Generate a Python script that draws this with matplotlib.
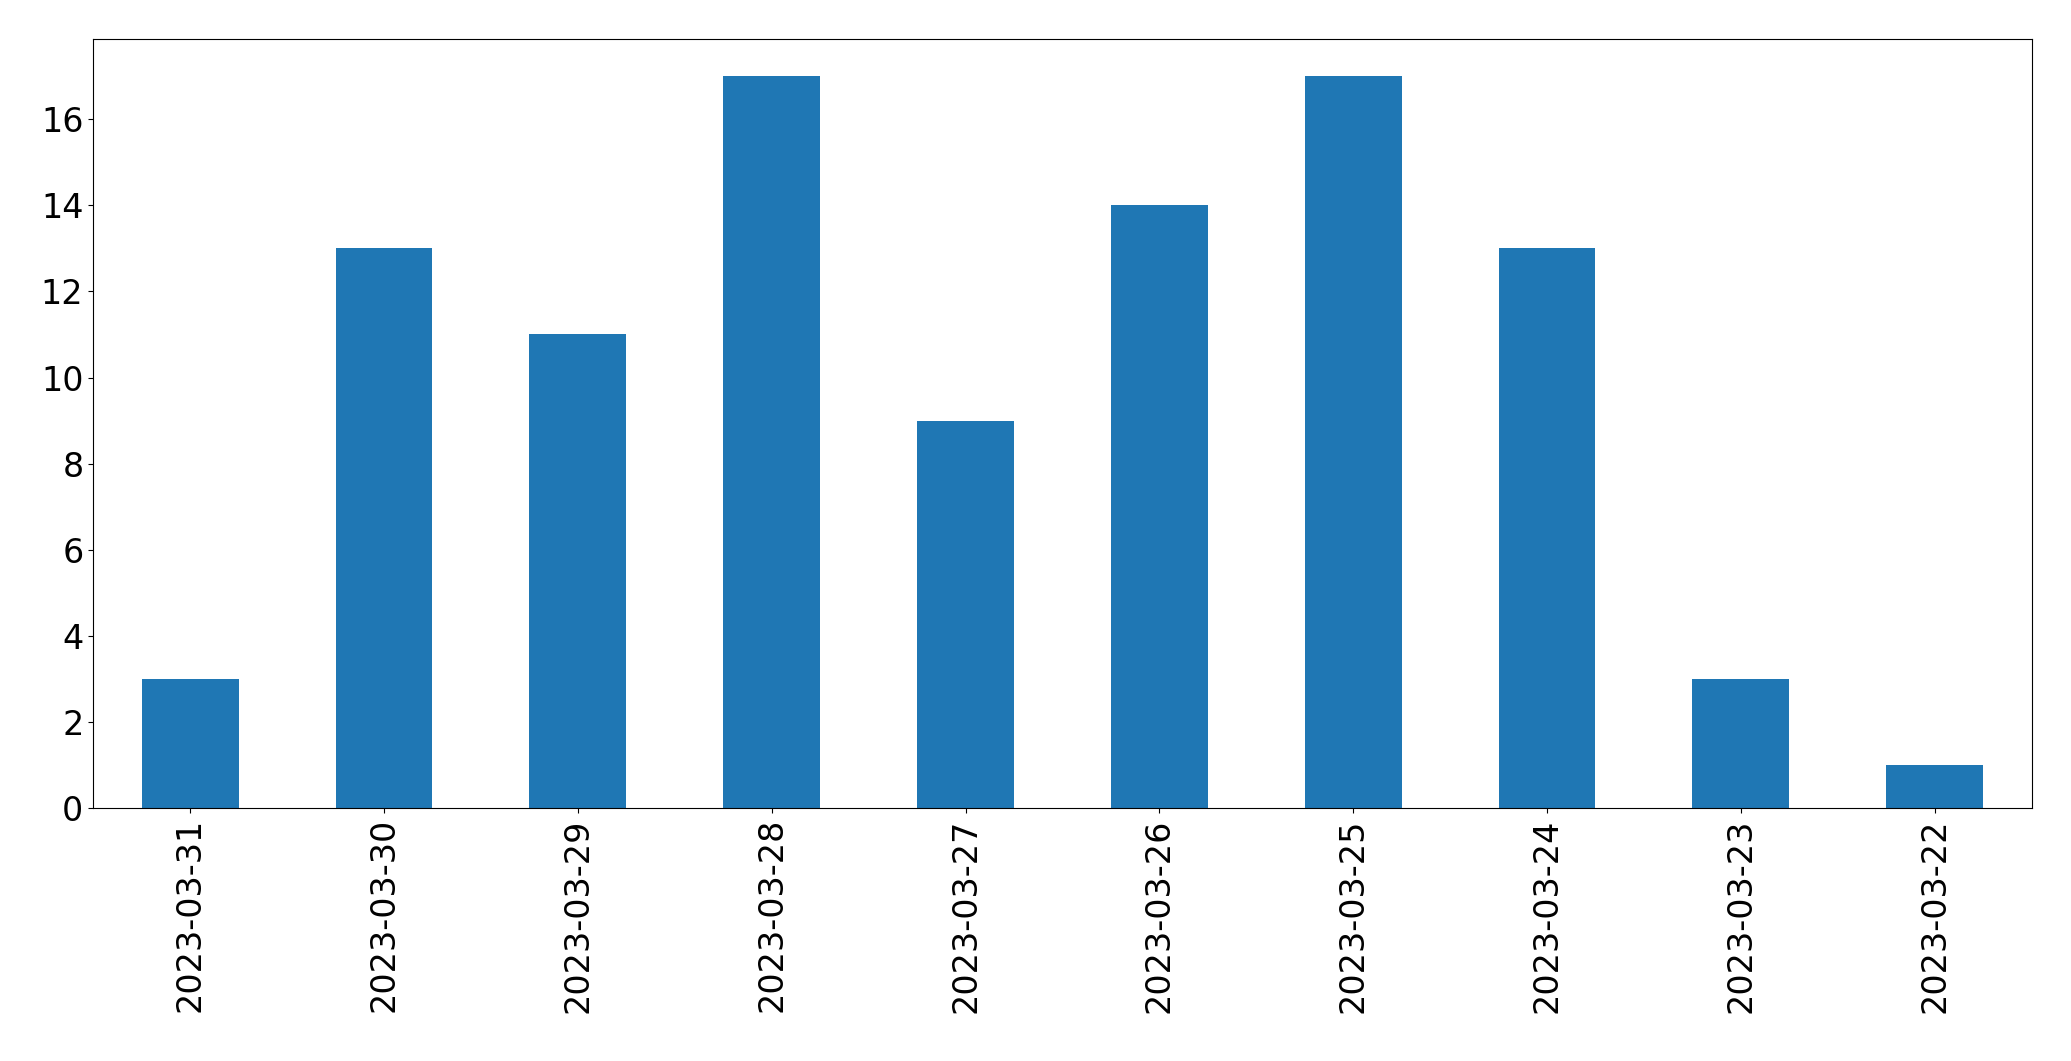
import matplotlib
matplotlib.use("Agg")
import matplotlib.pyplot as plt

dates = ["2023-03-31","2023-03-30","2023-03-29","2023-03-28","2023-03-27",
         "2023-03-26","2023-03-25","2023-03-24","2023-03-23","2023-03-22"]
counts = [3, 13, 11, 17, 9, 14, 17, 13, 3, 1]

fig = plt.figure(figsize=(20.71, 10.61), dpi=100)
ax = fig.add_axes([0.045, 0.238, 0.936, 0.725])
x = range(len(dates))
ax.bar(x, counts, width=0.5, color="#1f77b4")
ax.set_xlim(-0.5, len(dates) - 0.5)
ax.set_xticks(list(x))
ax.set_xticklabels(dates, rotation=90)
ax.tick_params(labelsize=24)
fig.savefig("out.png", dpi=100)
